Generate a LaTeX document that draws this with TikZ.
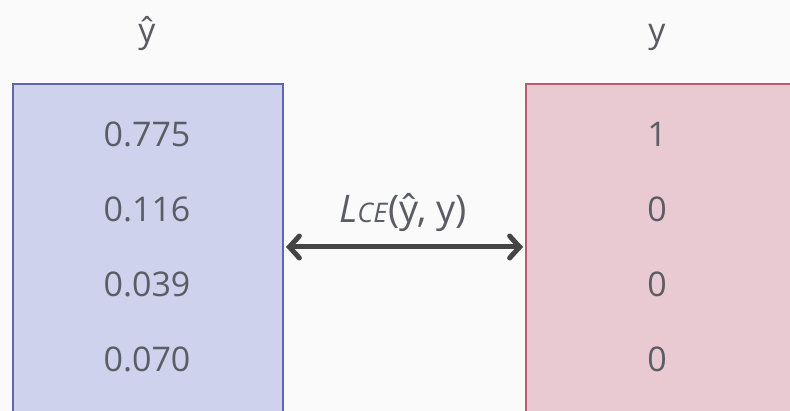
\documentclass[tikz,border=0pt]{standalone}
\usepackage{fontspec}
\setmainfont{Open Sans}
\usetikzlibrary{arrows.meta}
\definecolor{bg}{HTML}{FAFAFA}
\definecolor{bluefill}{HTML}{CED2EC}
\definecolor{blueline}{HTML}{5C66A8}
\definecolor{redfill}{HTML}{E9CAD3}
\definecolor{redline}{HTML}{B85C72}
\definecolor{txt}{HTML}{5A5E64}
\definecolor{arrowc}{HTML}{454545}
\tikzset{
  val/.style={text=txt, font=\fontsize{34}{40}\selectfont, anchor=base, inner sep=0pt},
  vecbox/.style={line width=2pt, inner sep=0pt, minimum width=270pt, minimum height=360pt, anchor=north west},
}
\begin{document}
\begin{tikzpicture}[x=1pt,y=-1pt]
\fill[bg] (0,0) rectangle (790,411);
\useasboundingbox (0,0) rectangle (790,411);
\node[vecbox, draw=blueline, fill=bluefill] (yhatbox) at (12,83) {};
\node[vecbox, draw=redline, fill=redfill] (ybox) at (525,83) {};
\node[val] (yhatlab) at (147,43) {ŷ};
\node[val] (ylab) at (657,43) {y};
\node[val] (a1) at (147,147) {0.775};
\node[val] (a2) at (147,222) {0.116};
\node[val] (a3) at (147,297) {0.039};
\node[val] (a4) at (147,372) {0.070};
\node[val] (b1) at (657,147) {1};
\node[val] (b2) at (657,222) {0};
\node[val] (b3) at (657,297) {0};
\node[val] (b4) at (657,372) {0};
\coordinate (l) at (yhatbox.east |- 0,247);
\coordinate (r) at (ybox.west |- 0,247);
\draw[arrowc, line width=5pt, {Straight Barb[length=10pt,width=22pt,line cap=round]}-{Straight Barb[length=10pt,width=22pt,line cap=round]}, shorten <=2pt, shorten >=2pt] (l) -- (r);
\node[val, font=\fontsize{38}{44}\selectfont] (loss) at (403,223) {\textit{L}{\fontsize{27}{30}\selectfont\textit{CE}}(ŷ, y)};
\end{tikzpicture}
\end{document}
